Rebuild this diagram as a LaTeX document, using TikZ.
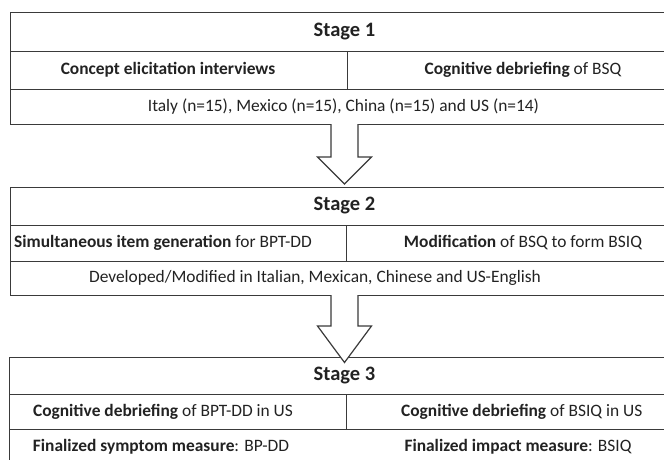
\documentclass[tikz,border=0pt]{standalone}
\usepackage{fontspec}
\setmainfont{Carlito}
\usetikzlibrary{calc}
\definecolor{ln}{HTML}{3A3A3A}
\definecolor{tx}{HTML}{222222}
\begin{document}
\begin{tikzpicture}[x=1pt,y=-1pt,
  cell/.style={draw=ln,line width=1.4pt,rectangle,inner sep=0pt,anchor=north west},
  hd/.style={font=\fontsize{20.5}{24}\selectfont\bfseries,text=tx,inner sep=0pt},
  lb/.style={font=\fontsize{17.4}{20}\selectfont,text=tx,inner sep=0pt},
  blockarrow/.style={draw=ln,line width=1.2pt,fill=white,line join=miter}]
\useasboundingbox (0,0) rectangle (664,460);
\begin{scope}
\clip (0,0) rectangle (664,460);
% Stage 1
\node[cell,minimum width=670pt,minimum height=39pt] (s1h) at (10,12) {};
\node[cell,minimum width=337pt,minimum height=38pt] (s1l) at (10,51) {};
\node[cell,minimum width=333pt,minimum height=38pt] (s1r) at (347,51) {};
\node[cell,minimum width=670pt,minimum height=35pt] (s1b) at (10,89) {};
% Stage 2
\node[cell,minimum width=670pt,minimum height=38pt] (s2h) at (10,187) {};
\node[cell,minimum width=335.7pt,minimum height=36pt] (s2l) at (10,225) {};
\node[cell,minimum width=334.3pt,minimum height=36pt] (s2r) at (345.7,225) {};
\node[cell,minimum width=670pt,minimum height=34pt] (s2b) at (10,261) {};
% Stage 3
\node[cell,minimum width=671.5pt,minimum height=37pt] (s3h) at (8.5,357) {};
\node[cell,minimum width=337.2pt,minimum height=35pt] (s3l) at (8.5,394) {};
\node[cell,minimum width=334.3pt,minimum height=35pt] (s3r) at (345.7,394) {};
\node[cell,minimum width=671.5pt,minimum height=37pt] (s3b) at (8.5,429) {};
\end{scope}
% texts
\node[hd] (t1h) at (344.5,31.5) {Stage 1};
\node[lb] (t1l) at (168,70) {\textbf{Concept elicitation interviews}};
\node[lb] (t1r) at (523,70) {\textbf{Cognitive debriefing} of BSQ};
\node[lb] (t1b) at (343.5,106.5) {Italy (n=15), Mexico (n=15), China (n=15) and US (n=14)};
\node[hd] (t2h) at (344.5,206) {Stage 2};
\node[lb] (t2l) at (163,243) {\textbf{Simultaneous item generation} for BPT-DD};
\node[lb] (t2r) at (523,243) {\textbf{Modification} of BSQ to form BSIQ};
\node[lb] (t2b) at (315,278) {Developed/Modified in Italian, Mexican, Chinese and US-English};
\node[hd] (t3h) at (344.5,375.5) {Stage 3};
\node[lb] (t3l) at (163,411.5) {\textbf{Cognitive debriefing} of BPT-DD in US};
\node[lb] (t3r) at (521.7,411.5) {\textbf{Cognitive debriefing} of BSIQ in US};
\node[lb] (t3bl) at (161,447) {\textbf{Finalized symptom measure}: BP-DD};
\node[lb] (t3br) at (518,447) {\textbf{Finalized impact measure}: BSIQ};
% block arrows
\coordinate (a1) at (344.5,124);
\coordinate (a2) at (344.5,295);
\draw[blockarrow] ($(a1)+(-13.5,0)$) -- ($(a1)+(-13.5,33)$) -- ($(a1)+(-27,33)$) -- ($(a1)+(0,60)$) -- ($(a1)+(27,33)$) -- ($(a1)+(13.5,33)$) -- ($(a1)+(13.5,0)$);
\draw[blockarrow] ($(a2)+(-13.5,0)$) -- ($(a2)+(-13.5,31)$) -- ($(a2)+(-27,31)$) -- ($(a2)+(0,67.5)$) -- ($(a2)+(27,31)$) -- ($(a2)+(13.5,31)$) -- ($(a2)+(13.5,0)$);
\end{tikzpicture}
\end{document}
